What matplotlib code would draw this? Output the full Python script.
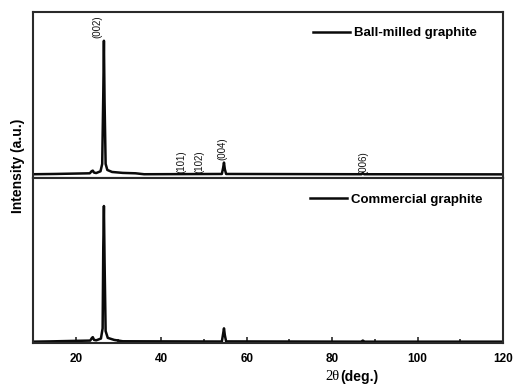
import matplotlib
matplotlib.use("Agg")
import matplotlib.pyplot as plt

plt.rcParams['font.family'] = ['Liberation Sans', 'DejaVu Sans']

# XRD patterns (2theta in deg, intensity normalised to 100)
ball_x = [10, 15, 20, 23.3, 23.7, 24.0, 24.3, 24.8, 25.8, 26.2, 26.45, 26.6, 26.75,
          27.0, 27.4, 28.5, 31, 34, 36, 54.2, 54.5, 54.7, 54.9, 55.2, 86.9, 87.2, 87.5, 120]
ball_y = [0.3, 0.5, 0.8, 1.0, 2.5, 3.0, 1.5, 1.2, 2.5, 8, 60, 100, 55,
          8, 3.5, 2.0, 1.3, 1.0, 0.3, 0.5, 5, 9, 4, 0.5, 0.3, 1.2, 0.3, 0.2]

comm_x = [10, 14, 20, 23.4, 23.8, 24.0, 24.3, 24.8, 25.9, 26.3, 26.45, 26.6, 26.75,
          27.0, 27.5, 29, 31, 54.2, 54.5, 54.7, 54.9, 55.2, 86.8, 87.2, 87.6, 120]
comm_y = [0.2, 0.4, 0.8, 1.0, 3.0, 3.5, 1.5, 1.2, 2.5, 10, 70, 100, 60,
          8, 3.0, 1.5, 0.5, 0.3, 6, 10, 5, 0.4, 0.2, 1.0, 0.2, 0.2]

peak_labels = ['(002)', '(101)', '(102)', '(004)', '(006)']
peak_label_x = [25.0, 44.7, 48.9, 54.3, 87.3]
peak_label_y = [102, 1.5, 1.5, 11, 0.5]

xticks = [20, 40, 60, 80, 100, 120]
minor_xticks = [30, 50, 70, 90, 110]

fig = plt.figure(figsize=(5.13, 3.85), dpi=100)
ax1 = fig.add_axes([0.0643, 0.5377, 0.9162, 0.4312])
ax2 = fig.add_axes([0.0643, 0.109, 0.9162, 0.4286])

spine_col = '#2a2a2a'
for ax in (ax1, ax2):
    for s in ax.spines.values():
        s.set_linewidth(1.5)
        s.set_color(spine_col)
    ax.set_xlim(10, 120)
    ax.set_yticks([])

ax1.plot(ball_x, ball_y, color='#0a0a0a', lw=1.8, label='Ball-milled graphite')
ax2.plot(comm_x, comm_y, color='#0a0a0a', lw=1.8, label='Commercial graphite')
ax1.set_ylim(-2.5, 121.5)
ax2.set_ylim(-0.8, 120.6)

ax1.set_xticks([])
ax2.set_xticks(xticks)
ax2.set_xticks(minor_xticks, minor=True)
ax2.tick_params(axis='x', which='major', direction='in', length=4, width=1.2,
                color=spine_col, pad=7, labelsize=8.5)
ax2.tick_params(axis='x', which='minor', direction='in', length=3, width=1.2,
                color=spine_col)
for lab in ax2.get_xticklabels():
    lab.set_fontweight('bold')

for t, x, y in zip(peak_labels, peak_label_x, peak_label_y):
    ax1.text(x, y, t, rotation=90, ha='center', va='bottom', fontsize=7, color='#111111')

ax1.legend(loc='center left', bbox_to_anchor=(0.596, 0.873), frameon=False,
           handlelength=2.8, handletextpad=0.3, borderpad=0, borderaxespad=0,
           prop={'weight': 'bold', 'size': 9.5})
ax2.legend(loc='center left', bbox_to_anchor=(0.589, 0.867), frameon=False,
           handlelength=2.8, handletextpad=0.3, borderpad=0, borderaxespad=0,
           prop={'weight': 'bold', 'size': 9.5})

fig.text(0.035, 0.57, 'Intensity (a.u.)', rotation=90, ha='center', va='center',
         fontsize=10, fontweight='bold')
fig.text(0.662, 0.021, '2\u03b8', ha='right', va='center', fontsize=10.5,
         family='Liberation Serif')
fig.text(0.663, 0.021, '(deg.)', ha='left', va='center', fontsize=10, fontweight='bold')

fig.savefig('out.png', dpi=100)
